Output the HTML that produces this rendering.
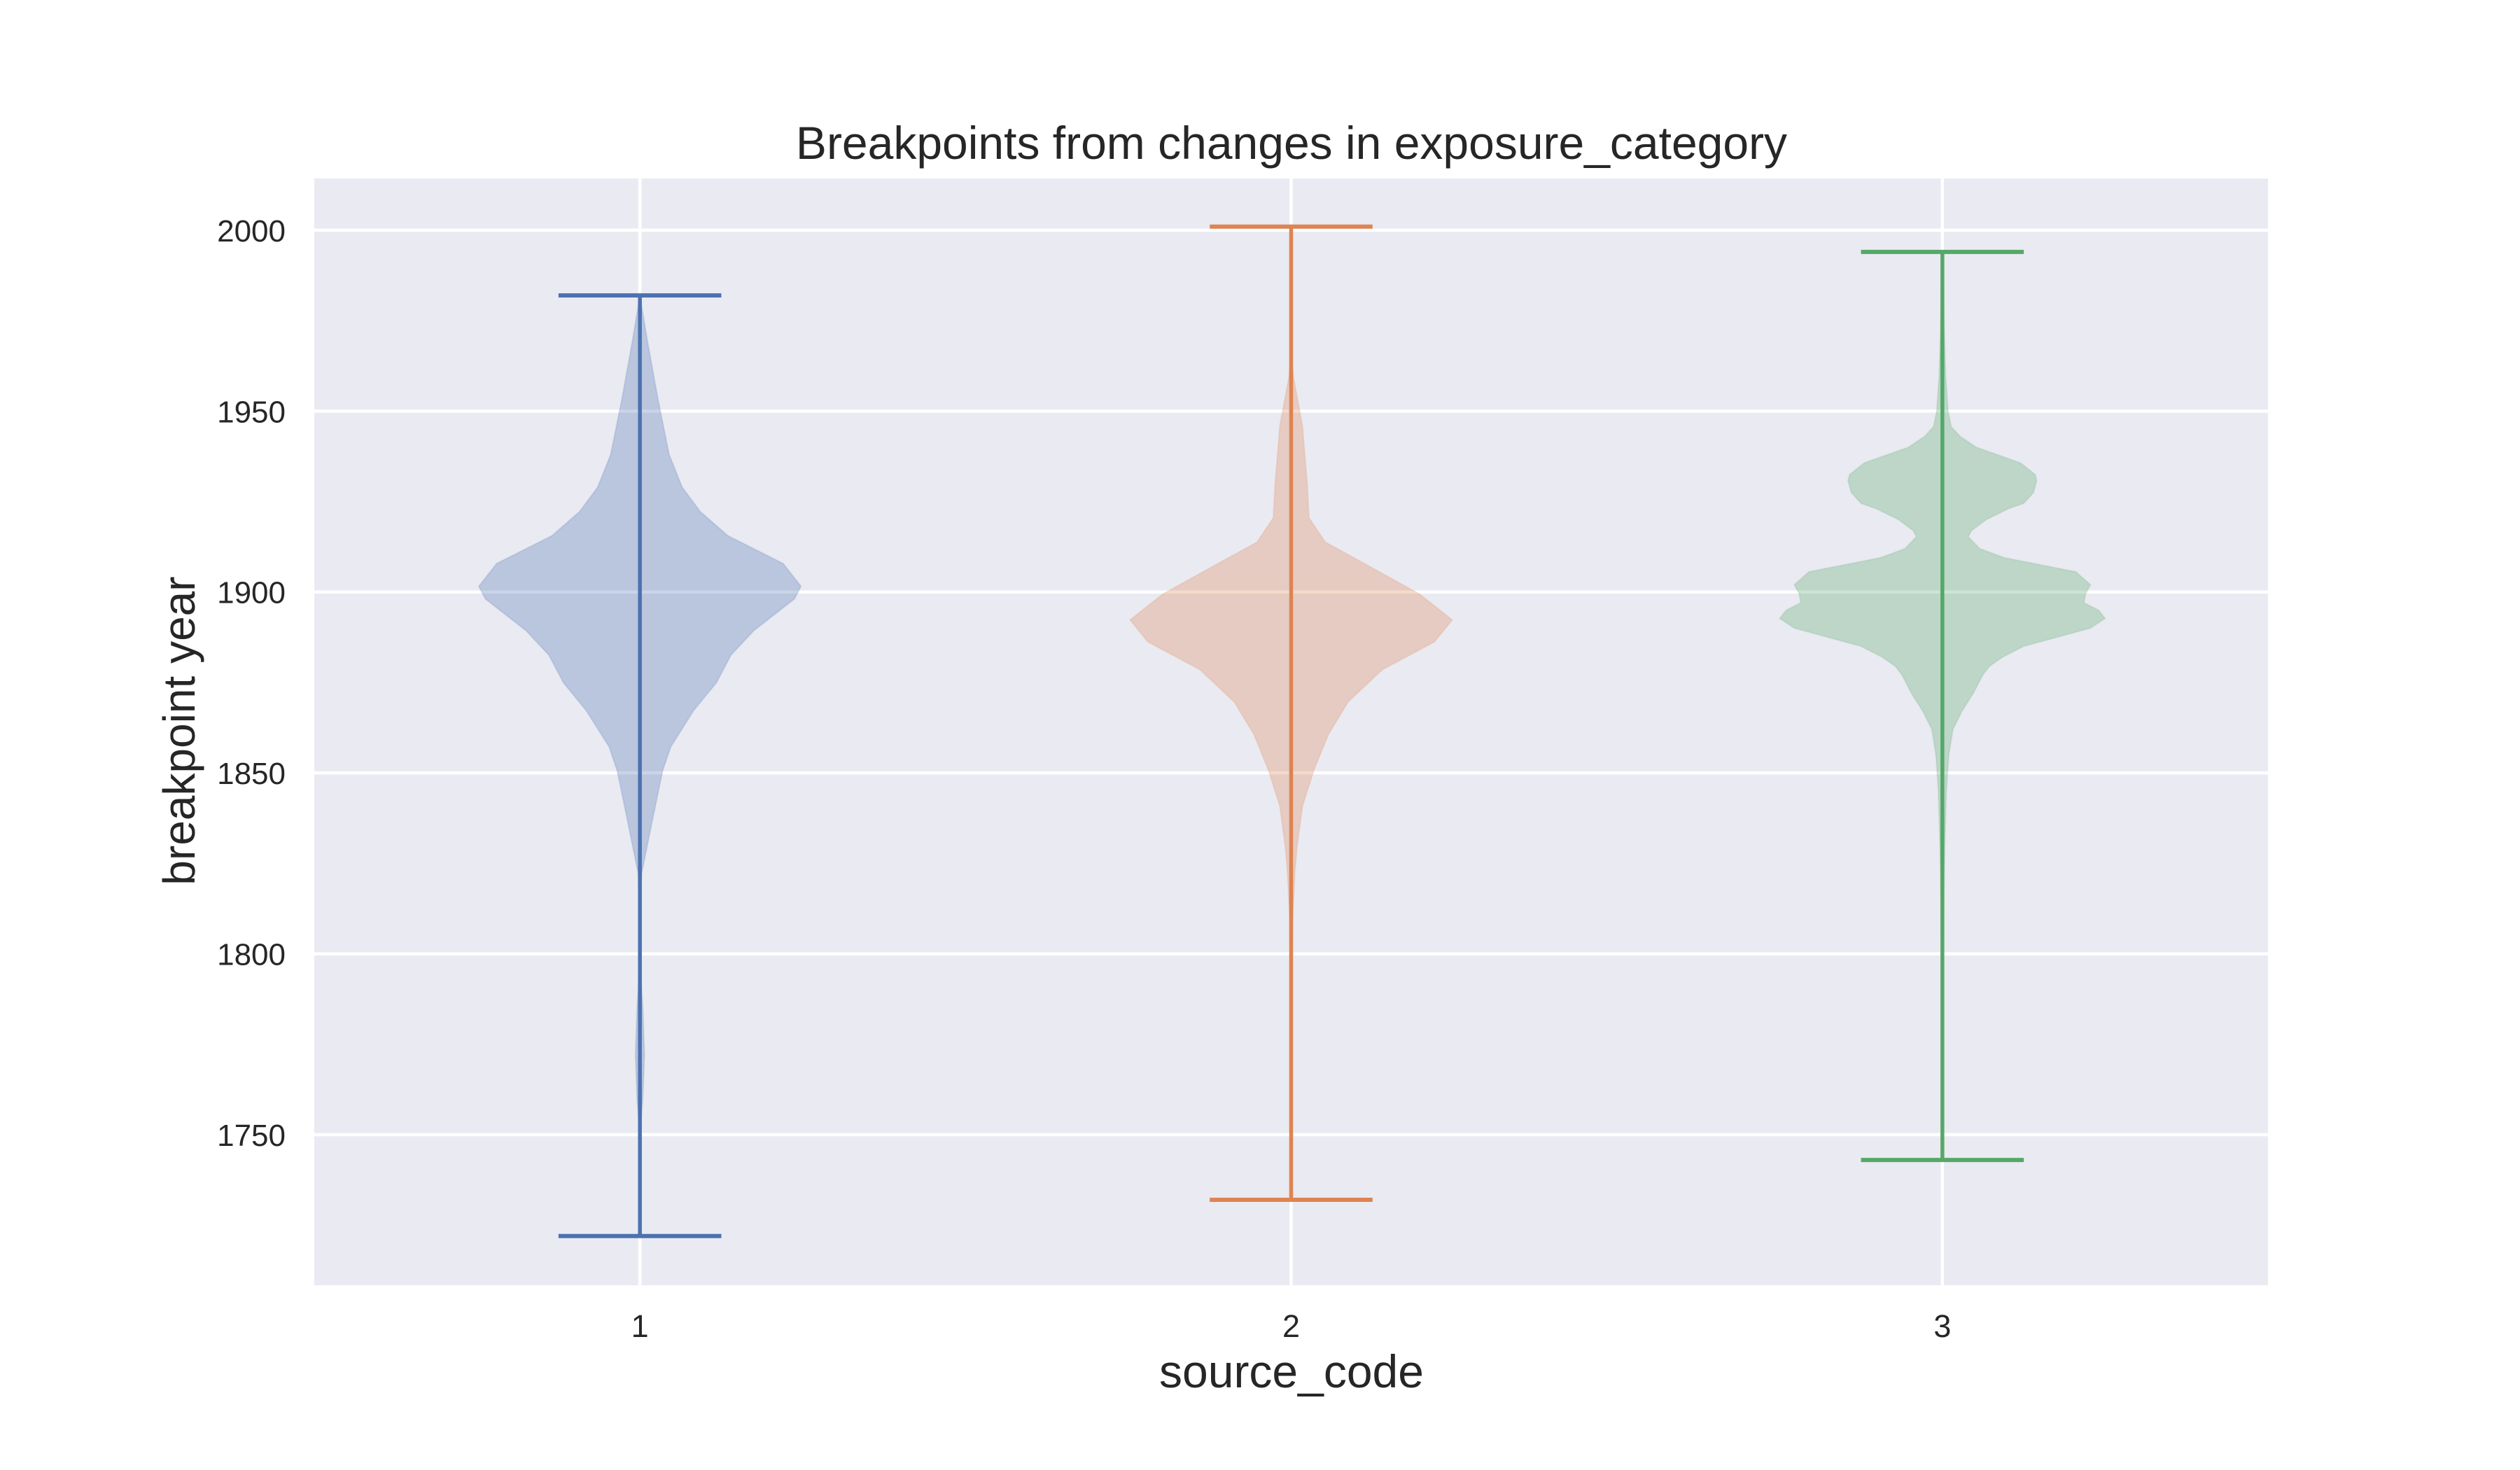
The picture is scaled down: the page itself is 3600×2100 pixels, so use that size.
<!DOCTYPE html>
<html><head><meta charset="utf-8"><style>
html,body{margin:0;padding:0;background:#fff;}
svg{display:block;font-family:"Liberation Sans",Arial,sans-serif;}
</style></head><body>
<svg id="chart" width="3600" height="2100" viewBox="0 0 3600 2100">
<rect x="0" y="0" width="3600" height="2100" fill="#ffffff"/>
<rect id="plotbg" fill="#eaeaf2"/>
<g id="grid"></g>
<g id="violins"></g>
<g id="yticks"></g>
<g id="xticks"></g>
<text x="1845" y="227" text-anchor="middle" font-size="66" fill="#262626">Breakpoints from changes in exposure_category</text>
<text x="1845" y="1982" text-anchor="middle" font-size="66" fill="#262626">source_code</text>
<text transform="translate(278,1044) rotate(-90)" text-anchor="middle" font-size="64" fill="#262626">breakpoint year</text>
</svg>
<script>
const categories = ["1","2","3"];
const yTicks = [1750,1800,1850,1900,1950,2000];
const mins = [1722,1732,1743];
const maxs = [1982,2001,1994];
const colors = ["#4c72b0","#dd8452","#55a868"];
// density profiles: [year, relative half-width]
const density1 = [[1722,0],[1740,0.001],[1752,0.004],[1760,0.018],[1772,0.028],[1785,0.018],[1795,0.004],[1810,0.003],[1822,0.01],[1838.4,0.084],[1850.6,0.14],[1857.2,0.19],[1867.2,0.33],[1874.9,0.47],[1882.6,0.56],[1889.3,0.70],[1898.1,0.95],[1901.6,0.99],[1907.9,0.88],[1915.6,0.54],[1922.3,0.37],[1929,0.26],[1938,0.18],[1953.6,0.11],[1969.3,0.047],[1982,0]];
const density2 = [[1732,0],[1760,0.001],[1790,0.003],[1810,0.01],[1822.3,0.023],[1829.8,0.037],[1840.8,0.07],[1850.8,0.14],[1860.7,0.23],[1869.6,0.35],[1878.5,0.56],[1886.2,0.88],[1892.3,0.99],[1899.4,0.79],[1907.4,0.47],[1913.8,0.21],[1920.5,0.11],[1929.3,0.10],[1945.9,0.07],[1959.2,0.015],[1965,0.003],[2001,0]];
const density3 = [[1743,0],[1770,0.001],[1800,0.004],[1818,0.01],[1830,0.015],[1845,0.025],[1855,0.04],[1862,0.065],[1867,0.12],[1872,0.19],[1877.2,0.25],[1879.5,0.29],[1882,0.37],[1885,0.5],[1890,0.91],[1892.7,1.0],[1895,0.96],[1897,0.87],[1899.5,0.88],[1902,0.91],[1905.6,0.82],[1909.5,0.38],[1912,0.23],[1915.3,0.16],[1917,0.18],[1920,0.27],[1923.1,0.41],[1924.5,0.5],[1927.5,0.56],[1930.8,0.58],[1932.5,0.57],[1935.7,0.48],[1940,0.21],[1943,0.11],[1945.7,0.055],[1950,0.035],[1960,0.02],[1975,0.01],[1994,0]];
const densities = [density1,density2,density3];

const NS="http://www.w3.org/2000/svg";
const L=449,R=3240,T=255,B=1836;
const X0=0.5,X1=3.5,Y0=1708.4,Y1=2014.3;
function xs(v){return L+(v-X0)/(X1-X0)*(R-L);}
function ys(v){return B-(v-Y0)/(Y1-Y0)*(B-T);}
const maxHW=(xs(1.25)-xs(1));
const capHW=(xs(1.125)-xs(1));
function mk(tag,attrs,parent){const e=document.createElementNS(NS,tag);for(const k in attrs)e.setAttribute(k,attrs[k]);parent.appendChild(e);return e;}
const bg=document.getElementById('plotbg');
bg.setAttribute('x',L);bg.setAttribute('y',T);bg.setAttribute('width',R-L);bg.setAttribute('height',B-T);
const grid=document.getElementById('grid');
yTicks.forEach(t=>{
  const l=mk('line',{x1:L,x2:R,y1:ys(t),y2:ys(t),stroke:'#fff','stroke-width':4.5},grid);
  
  
  const tx=mk('text',{x:408,y:ys(t)+16,'text-anchor':'end','font-size':44,fill:'#262626'},document.getElementById('yticks'));
  tx.textContent=t;
  
  
});
categories.forEach((c,i)=>{
  const cx=xs(i+1);
  const l=mk('line',{x1:cx,x2:cx,y1:T,y2:B,stroke:'#fff','stroke-width':4.5},grid);
  
  
  const tx=mk('text',{x:cx,y:1910,'text-anchor':'middle','font-size':45,fill:'#262626'},document.getElementById('xticks'));
  tx.textContent=c;
  
  
});
const vg=document.getElementById('violins');
densities.forEach((d,i)=>{
  const cx=xs(i+1);
  let pts=d.map(p=>(cx+p[1]*maxHW).toFixed(1)+','+ys(p[0]).toFixed(1));
  let back=d.slice().reverse().map(p=>(cx-p[1]*maxHW).toFixed(1)+','+ys(p[0]).toFixed(1));
  const poly=mk('polygon',{points:pts.concat(back).join(' '),fill:colors[i],'fill-opacity':0.3,stroke:colors[i],'stroke-opacity':0.15,'stroke-width':2},vg);
  
  
  const v=mk('line',{x1:cx,x2:cx,y1:ys(mins[i]),y2:ys(maxs[i]),stroke:colors[i],'stroke-width':5.5},vg);
  
  
  const cmax=mk('line',{x1:cx-capHW,x2:cx+capHW,y1:ys(maxs[i]),y2:ys(maxs[i]),stroke:colors[i],'stroke-width':6},vg);
  
  
  const cmin=mk('line',{x1:cx-capHW,x2:cx+capHW,y1:ys(mins[i]),y2:ys(mins[i]),stroke:colors[i],'stroke-width':6},vg);
  
  
});
</script>
</body></html>
